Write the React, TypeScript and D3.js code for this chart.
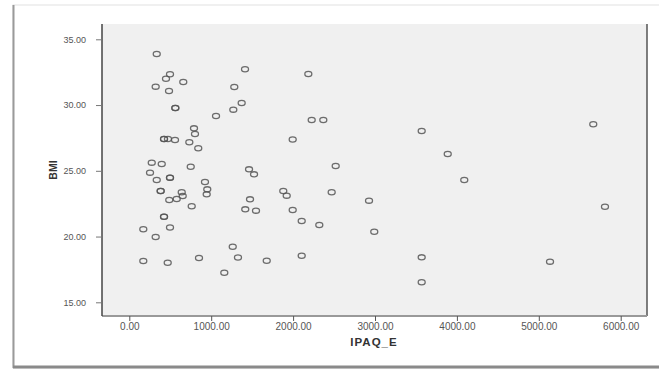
import React, { useRef, useEffect } from 'react';
import * as d3 from 'd3';

// IPAQ_E (x) vs BMI (y)
const ipaq = [
  335, 497, 448, 322, 485, 659, 562, 562, 1413, 1282, 1372, 1270, 1059, 790, 802,
  424, 424, 472, 558, 733, 842, 2186, 2227, 2369, 1995, 274, 396, 253, 335, 497,
  497, 750, 383, 383, 924, 952, 945, 488, 579, 652, 640, 762, 424, 424, 171, 497,
  322, 1462, 1523, 1474, 1416, 1547, 2520, 1880, 1922, 2471, 2927, 1995, 2105, 2320,
  2991, 171, 469, 851, 1263, 1327, 1160, 1678, 2105, 3570, 3888, 4090, 5665, 5808,
  3570, 3570, 5137,
];
const bmi = [
  33.88, 32.34, 32.0, 31.4, 31.07, 31.75, 29.78, 29.78, 32.72, 31.37, 30.16, 29.65, 29.17, 28.23, 27.8,
  27.42, 27.42, 27.42, 27.34, 27.17, 26.71, 32.36, 28.86, 28.86, 27.38, 25.62, 25.52, 24.86, 24.3, 24.48,
  24.48, 25.31, 23.46, 23.46, 24.15, 23.59, 23.21, 22.78, 22.86, 23.08, 23.37, 22.3, 21.51, 21.51, 20.55, 20.69,
  19.97, 25.11, 24.73, 22.83, 22.07, 21.97, 25.36, 23.46, 23.11, 23.37, 22.73, 22.02, 21.18, 20.88,
  20.37, 18.14, 18.01, 18.37, 19.23, 18.41, 17.25, 18.16, 18.54, 28.03, 26.28, 24.3, 28.54, 22.27,
  18.42, 16.52, 18.09,
];
const xTicks = [0, 1000, 2000, 3000, 4000, 5000, 6000];
const yTicks = [15, 20, 25, 30, 35];

const App = () => {
  const ref = useRef<SVGSVGElement>(null);

  useEffect(() => {
    const svg = d3.select(ref.current);
    svg.selectAll('*').remove();

    const width = 659;
    const height = 374;
    const plot = { left: 102, right: 647, top: 24, bottom: 316 };

    const x = d3.scaleLinear().domain([0, 6000]).range([129.3, 620.7]);
    const y = d3.scaleLinear().domain([15, 35]).range([302.3, 39.3]);

    svg.attr('width', width).attr('height', height);

    // card frame
    svg.append('rect').attr('width', width).attr('height', height).attr('fill', '#fff');
    svg.append('rect')
      .attr('x', 13).attr('y', 5).attr('width', width).attr('height', 363)
      .attr('fill', '#fff').attr('stroke', '#e2e2e2').attr('stroke-width', 1);
    svg.append('line')
      .attr('x1', 13.5).attr('x2', 13.5).attr('y1', 5).attr('y2', 368)
      .attr('stroke', '#9a9a9a').attr('stroke-width', 2);
    svg.append('line')
      .attr('x1', 13).attr('x2', width).attr('y1', 367).attr('y2', 367)
      .attr('stroke', '#8a8a8a').attr('stroke-width', 3);

    // plot background
    svg.append('rect')
      .attr('x', plot.left).attr('y', plot.top)
      .attr('width', plot.right - plot.left).attr('height', plot.bottom - plot.top)
      .attr('fill', '#f0f0f0');

    svg.append('line')
      .attr('x1', plot.right).attr('x2', plot.right).attr('y1', plot.top).attr('y2', plot.bottom)
      .attr('stroke', '#555').attr('stroke-width', 1.5);

    // points
    svg.append('g')
      .selectAll('ellipse')
      .data(ipaq.map((v, i) => [v, bmi[i]]))
      .enter()
      .append('ellipse')
      .attr('cx', d => x(d[0]))
      .attr('cy', d => y(d[1]))
      .attr('rx', 3.5)
      .attr('ry', 2.6)
      .attr('fill', 'none')
      .attr('stroke', '#555')
      .attr('stroke-opacity', 0.85)
      .attr('stroke-width', 1.3);

    // axes
    const gx = svg.append('g')
      .attr('transform', `translate(0,${plot.bottom})`)
      .call(d3.axisBottom(x).tickValues(xTicks).tickFormat(d3.format('.2f')).tickSize(5).tickPadding(2).tickSizeOuter(0));
    gx.select('.domain').attr('d', `M${plot.left},0H${plot.right}`).attr('stroke', '#999').attr('stroke-width', 2);
    gx.selectAll('.tick line').attr('stroke', '#555');
    gx.selectAll('text')
      .attr('fill', '#555').style('font-family', 'Liberation Sans, Arial, sans-serif').style('font-size', '10px');

    const gy = svg.append('g')
      .attr('transform', `translate(${plot.left},0)`)
      .call(d3.axisLeft(y).tickValues(yTicks).tickFormat(d3.format('.2f')).tickSize(6).tickPadding(10).tickSizeOuter(0));
    gy.select('.domain').attr('d', `M0,${plot.top}V${plot.bottom}`).attr('stroke', '#444').attr('stroke-width', 1.5);
    gy.selectAll('.tick line').attr('stroke', '#777');
    gy.selectAll('text')
      .attr('fill', '#555').style('font-family', 'Liberation Sans, Arial, sans-serif').style('font-size', '9px');

    // axis labels
    svg.append('text')
      .attr('x', 374)
      .attr('y', 346)
      .attr('text-anchor', 'middle')
      .attr('fill', '#333')
      .style('font-family', 'Liberation Sans, Arial, sans-serif')
      .style('font-size', '11.5px')
      .style('font-weight', 'bold')
      .style('letter-spacing', '1px')
      .text('IPAQ_E');

    svg.append('text')
      .attr('transform', 'translate(57,170) rotate(-90)')
      .attr('text-anchor', 'middle')
      .attr('fill', '#333')
      .style('font-family', 'Liberation Sans, Arial, sans-serif')
      .style('font-size', '10.5px')
      .style('font-weight', 'bold')
      .text('BMI');
  }, []);

  return <svg ref={ref} style={{ position: 'absolute', left: 0, top: 0 }}></svg>;
};

export default App;
